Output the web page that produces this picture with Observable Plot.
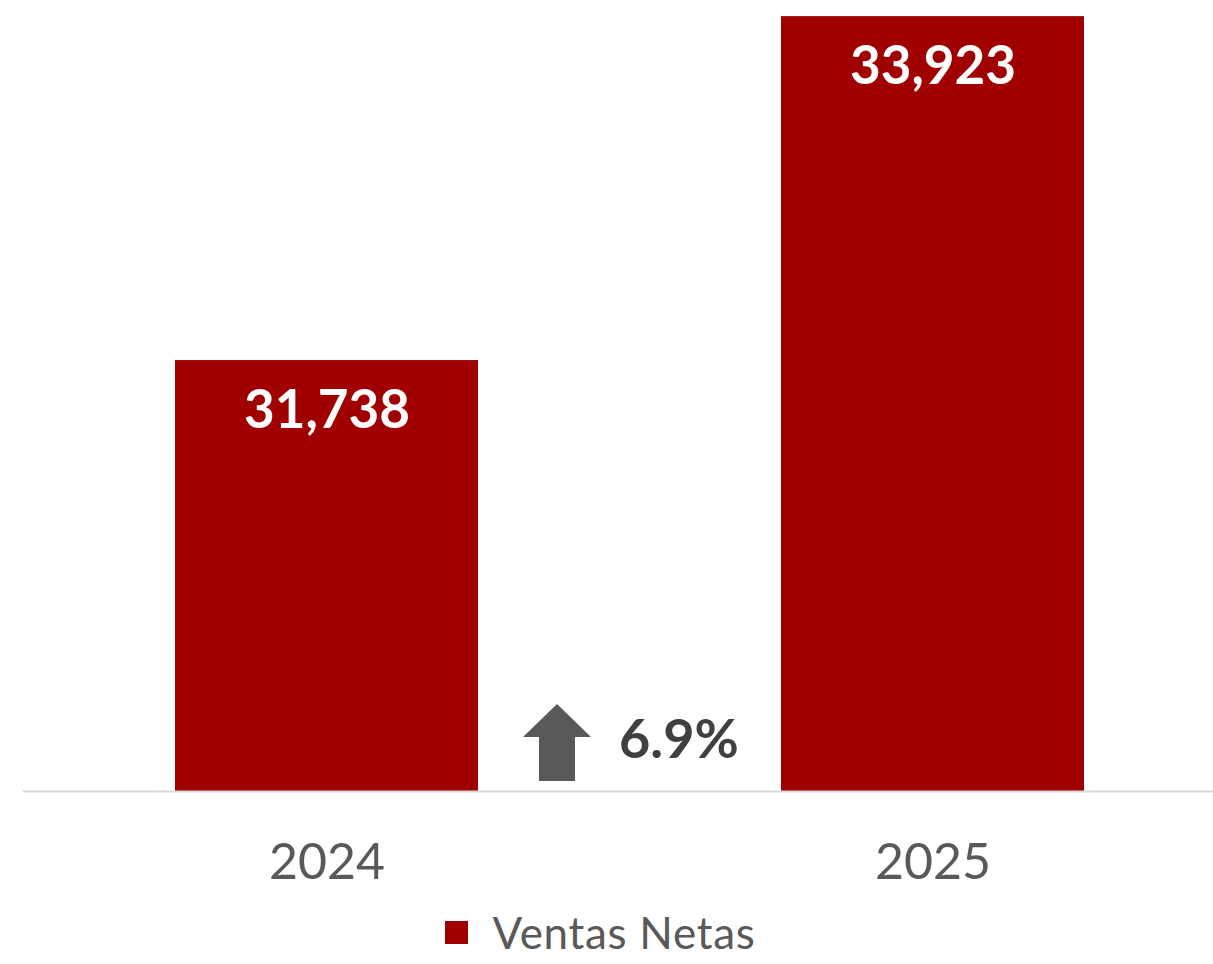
<!DOCTYPE html>
<html>
<head>
<meta charset="utf-8">
<script src="https://cdn.jsdelivr.net/npm/d3@7"></script>
<script src="https://cdn.jsdelivr.net/npm/@observablehq/plot@0.6"></script>
<style>
  html, body { margin: 0; padding: 0; background: #fff; overflow: hidden; }
  #chart svg { display: block; }
  .legend { display: flex; align-items: center; justify-content: center; height: 46px; line-height: 1; font-family: Lato, "Open Sans", sans-serif; font-size: 44px; letter-spacing: 0.7px; color: #595959; margin-top: 9px; }
  .legend .sw { width: 23px; height: 23px; background: #a00000; margin-right: 24px; margin-left: -12px; }
</style>
</head>
<body>
<div id="chart"></div>
<div class="legend"><span class="sw"></span><span>Ventas Netas</span></div>
<script>
const years = ["2024", "2025"];
const ventas = [31738, 33923];
const seriesName = "Ventas Netas";
const yDomain = [29000, 34000];

const data = years.map((y, i) => ({year: y, value: ventas[i]}));
const growth = ventas[1] / ventas[0] - 1;
const growthLabel = d3.format(".1%")(growth);

// up-arrow symbol; size = PI * r^2
const arrowSymbol = {
  draw(ctx, size) {
    const r = Math.sqrt(size / Math.PI);
    const hw = r * 1.133, sw = r * 0.6, hh = r * 1.1;
    const top = -r * 1.283, bot = r * 1.283;
    ctx.moveTo(0, top);
    ctx.lineTo(hw, top + hh);
    ctx.lineTo(sw, top + hh);
    ctx.lineTo(sw, bot);
    ctx.lineTo(-sw, bot);
    ctx.lineTo(-sw, top + hh);
    ctx.lineTo(-hw, top + hh);
    ctx.closePath();
  }
};

const chart = Plot.plot({
  width: 1213,
  height: 900,
  marginTop: 4,
  marginBottom: 109,
  marginLeft: 23,
  marginRight: 0,
  style: {fontFamily: "Lato, 'Open Sans', sans-serif", background: "#fff"},
  x: {domain: years, range: [23, 1236], paddingInner: 0.5, paddingOuter: 0.25, label: null},
  y: {domain: yDomain, axis: null},
  marks: [
    Plot.barY(data, {x: "year", y1: () => yDomain[0], y2: "value", fill: "#a00000"}),
    Plot.ruleY([yDomain[0]], {stroke: "#d9d9d9", strokeWidth: 2}),
    Plot.axisX({tickSize: 0, tickPadding: 52, fontSize: 50, color: "#595959", fill: "#595959"}),
    Plot.text(data, {x: "year", y: "value", text: d => d3.format(",")(d.value), dy: 50, fill: "white", fontSize: 53, fontWeight: "bold"}),
    Plot.dot([growth], {x: () => years[0], frameAnchor: "bottom", dx: 230, dy: -49, symbol: arrowSymbol, r: 30, fill: "#595959", stroke: null}),
    Plot.text([growthLabel], {x: () => years[0], frameAnchor: "bottom", dx: 292, dy: -51, lineAnchor: "middle", text: d => d, textAnchor: "start", fill: "#404040", fontSize: 54, fontWeight: "bold"})
  ]
});
document.getElementById("chart").appendChild(chart);
</script>
</body>
</html>
